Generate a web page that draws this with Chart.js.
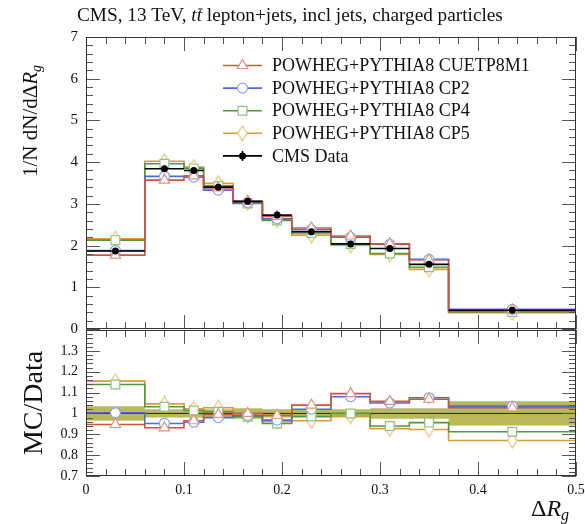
<!DOCTYPE html>
<html><head><meta charset="utf-8">
<script src="https://cdn.jsdelivr.net/npm/chart.js@4.4.1/dist/chart.umd.min.js"></script>
<style>
html,body{margin:0;padding:0;background:#fff}
#wrap{position:relative;width:585px;height:524px}
canvas{position:absolute;left:0;top:0}
</style></head><body>
<div id="wrap"><canvas id="main" width="585" height="524"></canvas><canvas id="ratio" width="585" height="524"></canvas></div>
<script>
// bins of Delta R_g
const bin_edges = [0, 0.06, 0.10, 0.12, 0.15, 0.18, 0.21, 0.25, 0.29, 0.33, 0.37, 0.50]
const cms_data  = [1.87, 3.84, 3.80, 3.40, 3.06, 2.73, 2.33, 2.04, 1.93, 1.55, 0.45]
const data_band = [0.035, 0.02, 0.02, 0.02, 0.025, 0.02, 0.02, 0.02, 0.025, 0.025, 0.058]
// MC predictions (top panel)
const cuetp8m1 = [1.77, 3.57, 3.67, 3.38, 3.06, 2.70, 2.42, 2.23, 2.04, 1.66, 0.46]
const cp2      = [1.88, 3.66, 3.64, 3.33, 3.03, 2.64, 2.38, 2.20, 2.03, 1.67, 0.47]
const cp4      = [2.13, 3.96, 3.85, 3.43, 3.01, 2.60, 2.30, 2.04, 1.81, 1.48, 0.41]
const cp5      = [2.16, 4.02, 3.88, 3.49, 3.03, 2.62, 2.25, 2.01, 1.79, 1.43, 0.39]
// MC/Data (bottom panel)
const r_cuetp8m1 = [0.947, 0.931, 0.965, 0.995, 1.00, 0.99, 1.04, 1.095, 1.058, 1.068, 1.027]
const r_cp2      = [1.003, 0.952, 0.958, 0.98, 0.99, 0.968, 1.02, 1.08, 1.05, 1.075, 1.035]
const r_cp4      = [1.139, 1.032, 1.014, 1.008, 0.984, 0.952, 0.985, 1.00, 0.94, 0.956, 0.912]
const r_cp5      = [1.155, 1.046, 1.022, 1.027, 0.99, 0.96, 0.965, 0.987, 0.927, 0.923, 0.87]
const model_names = ['POWHEG+PYTHIA8 CUETP8M1', 'POWHEG+PYTHIA8 CP2', 'POWHEG+PYTHIA8 CP4', 'POWHEG+PYTHIA8 CP5']
const data_name = 'CMS Data'
// tick labels
const x_labels = ['0', '0.1', '0.2', '0.3', '0.4', '0.5']
const y_labels = ['0', '1', '2', '3', '4', '5', '6', '7']
const r_labels = ['0.7', '0.8', '0.9', '1', '1.1', '1.2', '1.3']

const SERIF = '"Liberation Serif", "DejaVu Serif", serif'
const line_colors = ['#d2553a', '#4c6cd8', '#4f9a3a', '#e09a32']
const edge_colors = ['#e0937f', '#8fa2ea', '#8fc47f', '#ecc27c']

function diamond_img(color){
    const c = document.createElement('canvas')
    c.width = 11; c.height = 17
    const g = c.getContext('2d')
    g.beginPath(); g.moveTo(5.5,1); g.lineTo(10,8.5); g.lineTo(5.5,16); g.lineTo(1,8.5); g.closePath()
    g.fillStyle = '#fff'; g.fill()
    g.strokeStyle = color; g.lineWidth = 1.2; g.stroke()
    return c
}
const marker_styles = [
    {pointStyle:'triangle', radius:6},
    {pointStyle:'circle', radius:5},
    {pointStyle:'rect', radius:6.2},
    {pointStyle:diamond_img(edge_colors[3]), radius:6}
]

function step_points(vals){
    const pts = vals.map((v,i)=>({x:bin_edges[i], y:v}))
    pts.push({x:bin_edges[vals.length], y:vals[vals.length-1]})
    return pts
}
function centre_points(vals){
    return vals.map((v,i)=>({x:(bin_edges[i]+bin_edges[i+1])/2, y:v}))
}
function bar_points(vals){
    const pts = []
    vals.forEach((v,i)=>{ pts.push({x:bin_edges[i], y:v}, {x:bin_edges[i+1], y:v}, {x:bin_edges[i+1], y:null}) })
    return pts
}

// frame + ticks drawn through the chart scales
function draw_frame(chart, y_from, y_step, y_count, y_major){
    const ctx = chart.ctx, a = chart.chartArea
    const xs = chart.scales.x, ys = chart.scales.y
    ctx.save()
    ctx.strokeStyle = '#555'; ctx.lineWidth = 1
    ctx.beginPath()
    for(let i=0;i<=25;i++){
        const px = Math.round(xs.getPixelForValue(i*0.02)) + 0.5
        const len = i%5===0 ? 14 : 7
        ctx.moveTo(px, a.bottom); ctx.lineTo(px, a.bottom-len)
        ctx.moveTo(px, a.top); ctx.lineTo(px, a.top+len)
    }
    for(let i=0;i<=y_count;i++){
        const py = Math.round(ys.getPixelForValue(y_from + i*y_step)) + 0.5
        const len = i%y_major===0 ? 14 : 7
        ctx.moveTo(a.left, py); ctx.lineTo(a.left+len, py)
        ctx.moveTo(a.right, py); ctx.lineTo(a.right-len, py)
    }
    ctx.stroke()
    ctx.strokeStyle = '#333'
    ctx.strokeRect(Math.round(a.left)+0.5, Math.round(a.top)+0.5, Math.round(a.right-a.left)-1, Math.round(a.bottom-a.top)-1)
    ctx.restore()
}

function draw_marker(ctx, style, color, x, y){
    ctx.save()
    ctx.fillStyle = '#fff'; ctx.strokeStyle = color; ctx.lineWidth = 1.2
    Chart.helpers.drawPoint(ctx, {pointStyle:style.pointStyle, radius:style.radius, borderWidth:1.2, rotation:0}, x, y)
    ctx.restore()
}

const main_decor = {
    id:'main_decor',
    afterDraw(chart){
        const ctx = chart.ctx
        draw_frame(chart, 0, 0.2, 35, 5)
        const ys = chart.scales.y
        ctx.save()
        ctx.fillStyle = '#111'
        ctx.font = '15px ' + SERIF
        ctx.textAlign = 'right'; ctx.textBaseline = 'middle'
        y_labels.forEach(l=>ctx.fillText(l, 78, ys.getPixelForValue(parseFloat(l))))
        // title
        const parts = [['CMS, 13 TeV, ', ''], ['t', 'italic '], ['t', 'italic '], [' lepton+jets, incl jets, charged particles', '']]
        let size = 16, total = 0
        parts.forEach(p=>{ ctx.font = p[1] + size + 'px ' + SERIF; total += ctx.measureText(p[0]).width })
        size = size * 426 / total
        let x = 77
        ctx.textAlign = 'left'; ctx.textBaseline = 'alphabetic'
        parts.forEach((p,i)=>{
            ctx.font = p[1] + size + 'px ' + SERIF
            const w = ctx.measureText(p[0]).width
            ctx.fillText(p[0], x, 21)
            if(i===2){
                ctx.fillRect(x+1.5, 8.5, w-1, 1)
            }
            x += w
        })
        // y title
        ctx.save()
        ctx.translate(37, 177)
        ctx.rotate(-Math.PI/2)
        ctx.font = '21px ' + SERIF
        ctx.fillText('1/N dN/dΔ', 0, 0)
        let w = ctx.measureText('1/N dN/dΔ').width
        ctx.font = 'italic 21px ' + SERIF
        ctx.fillText('R', w, 0)
        w += ctx.measureText('R').width
        ctx.font = 'italic 14px ' + SERIF
        ctx.fillText('g', w, 4)
        ctx.restore()
        // legend
        const names = model_names.concat([data_name])
        ctx.font = '18px ' + SERIF
        ctx.textBaseline = 'middle'
        names.forEach((n,i)=>{
            const yy = 65.5 + i*22.6
            ctx.lineWidth = 1.6
            ctx.strokeStyle = i<4 ? line_colors[i] : '#000'
            ctx.beginPath(); ctx.moveTo(223, yy); ctx.lineTo(262, yy); ctx.stroke()
            if(i<4){
                draw_marker(ctx, marker_styles[i], edge_colors[i], 242.5, yy)
            }else{
                ctx.fillStyle = '#000'
                ctx.beginPath(); ctx.arc(242.5, yy, 3.5, 0, Math.PI*2); ctx.fill()
                ctx.beginPath(); ctx.moveTo(242.5, yy-5); ctx.lineTo(242.5, yy+5); ctx.stroke()
            }
            ctx.fillStyle = '#111'
            ctx.fillText(n, 272, yy+1)
        })
        ctx.restore()
    }
}

const ratio_decor = {
    id:'ratio_decor',
    afterDraw(chart){
        const ctx = chart.ctx
        draw_frame(chart, 0.7, 0.02, 35, 5)
        const xs = chart.scales.x, ys = chart.scales.y
        ctx.save()
        ctx.fillStyle = '#111'
        ctx.font = '14px ' + SERIF
        ctx.textAlign = 'right'; ctx.textBaseline = 'middle'
        r_labels.forEach(l=>ctx.fillText(l, 78, ys.getPixelForValue(parseFloat(l))))
        ctx.textAlign = 'center'
        x_labels.forEach(l=>ctx.fillText(l, xs.getPixelForValue(parseFloat(l)), 490))
        // MC/Data title
        ctx.save()
        ctx.translate(42, 403)
        ctx.rotate(-Math.PI/2)
        ctx.textAlign = 'center'; ctx.textBaseline = 'alphabetic'
        ctx.font = '28px ' + SERIF
        ctx.fillText('MC/Data', 0, 0)
        ctx.restore()
        // x title
        ctx.textAlign = 'left'; ctx.textBaseline = 'alphabetic'
        ctx.font = '24px ' + SERIF
        ctx.fillText('Δ', 531, 516)
        let w = ctx.measureText('Δ').width
        ctx.font = 'italic 24px ' + SERIF
        ctx.fillText('R', 531+w, 516)
        w += ctx.measureText('R').width
        ctx.font = 'italic 16px ' + SERIF
        ctx.fillText('g', 531+w, 520)
        ctx.restore()
    }
}

// top panel datasets
const main_sets = []
const mc_vals = [cuetp8m1, cp2, cp4, cp5]
mc_vals.forEach((vals,i)=>{
    main_sets.push({type:'line', data:step_points(vals), stepped:'before', borderColor:line_colors[i], borderWidth:1.6, pointRadius:0, fill:false, order:10+i})
    main_sets.push({type:'scatter', data:centre_points(vals), pointStyle:marker_styles[i].pointStyle, pointRadius:marker_styles[i].radius, borderColor:edge_colors[i], backgroundColor:'#fff', borderWidth:1.2, order:5})
})
main_sets.push({type:'line', data:bar_points(cms_data), borderColor:'#000', borderWidth:1.6, pointRadius:0, spanGaps:false, fill:false, order:2})
main_sets.push({type:'scatter', data:centre_points(cms_data), pointStyle:'circle', pointRadius:3.5, borderColor:'#000', backgroundColor:'#000', borderWidth:0, order:1})

new Chart(document.getElementById('main'), {
    type:'line',
    data:{datasets:main_sets},
    options:{
        responsive:false, animation:false, devicePixelRatio:1,
        layout:{padding:{left:86, top:37, right:9, bottom:195}},
        plugins:{legend:{display:false}, tooltip:{enabled:false}},
        scales:{
            x:{type:'linear', min:0, max:0.5, display:false},
            y:{type:'linear', min:0, max:7, display:false}
        }
    },
    plugins:[main_decor]
})

// bottom panel datasets
const ratio_sets = []
ratio_sets.push({type:'line', data:step_points(data_band.map(u=>1-u)), stepped:'before', borderWidth:0, pointRadius:0, fill:false, order:30})
ratio_sets.push({type:'line', data:step_points(data_band.map(u=>1+u)), stepped:'before', borderWidth:0, pointRadius:0, fill:'-1', backgroundColor:'rgba(155,155,20,0.7)', order:29})
ratio_sets.push({type:'line', data:[{x:0,y:1},{x:0.5,y:1}], borderColor:'#222', borderWidth:1, pointRadius:0, fill:false, order:20})
const ratio_vals = [r_cuetp8m1, r_cp2, r_cp4, r_cp5]
ratio_vals.forEach((vals,i)=>{
    ratio_sets.push({type:'line', data:step_points(vals), stepped:'before', borderColor:line_colors[i], borderWidth:1.6, pointRadius:0, fill:false, order:10+i})
    ratio_sets.push({type:'scatter', data:centre_points(vals), pointStyle:marker_styles[i].pointStyle, pointRadius:marker_styles[i].radius, borderColor:edge_colors[i], backgroundColor:'#fff', borderWidth:1.2, order:5})
})

new Chart(document.getElementById('ratio'), {
    type:'line',
    data:{datasets:ratio_sets},
    options:{
        responsive:false, animation:false, devicePixelRatio:1,
        layout:{padding:{left:86, top:330, right:9, bottom:48}},
        plugins:{legend:{display:false}, tooltip:{enabled:false}},
        scales:{
            x:{type:'linear', min:0, max:0.5, display:false},
            y:{type:'linear', min:0.7, max:1.4, display:false}
        }
    },
    plugins:[ratio_decor]
})
</script>
</body></html>
